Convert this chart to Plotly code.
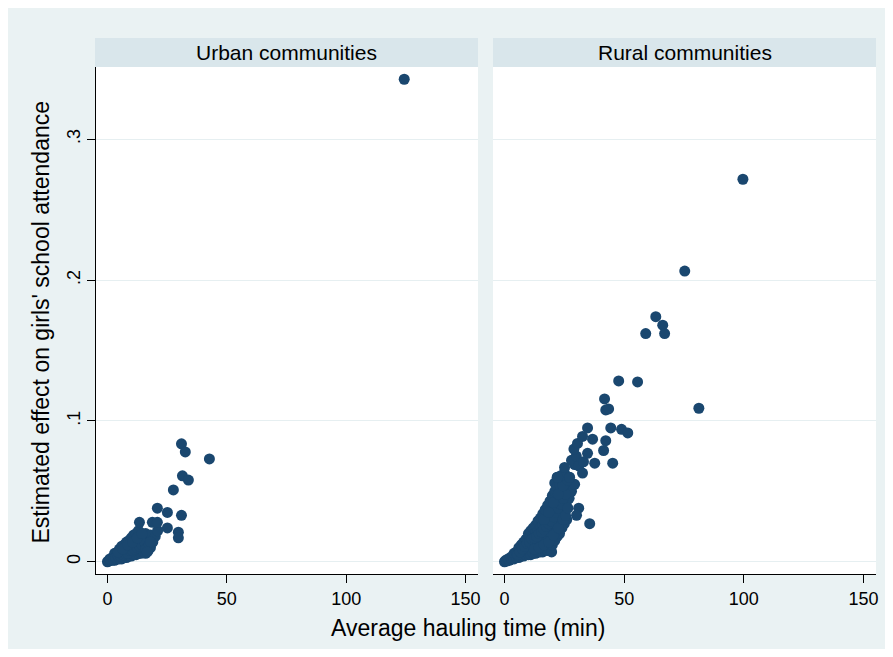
import plotly.graph_objects as go

# ---------------- data ----------------
panel_titles = ["Urban communities", "Rural communities"]
x_title = "Average hauling time (min)"
y_title = "Estimated effect on girls' school attendance"
x_tick_vals = [0, 50, 100, 150]
x_tick_text = ["0", "50", "100", "150"]
y_tick_vals = [0, 0.1, 0.2, 0.3]
y_tick_text = ["0", ".1", ".2", ".3"]

urban_x = [0, 0.5, 1, 1, 2, 2, 3, 3, 3, 4, 4, 5, 5, 5, 6, 6, 6, 7, 7, 7,
           8, 8, 8, 9, 9, 9, 10, 10, 10, 11, 11, 11, 12, 12, 12, 13, 13, 13,
           14, 14, 15, 15, 16, 16, 16, 17, 17, 18, 18, 19, 20, 21,
           1.5, 2.5, 3.5, 4.5, 5.5, 6.5, 7.5, 8.5, 9.5, 10.5, 11.5, 12.5, 13.5,
           14.5, 15.5, 4.5, 6.5, 8.5, 10.5, 12.5, 14.5, 16, 17.5, 18,
           16.7, 13.4, 18.8, 20.9, 20.9, 25.1, 25.1, 29.7, 29.7, 31.0, 27.6,
           31.4, 33.9, 31.0, 32.6, 42.7, 124.3]
urban_y = [0, 0.0005, 0.001, 0.002, 0.001, 0.003, 0.001, 0.004, 0.006, 0.002,
           0.005, 0.002, 0.005, 0.009, 0.002, 0.006, 0.011, 0.003, 0.007, 0.012,
           0.003, 0.008, 0.014, 0.004, 0.010, 0.015, 0.004, 0.011, 0.017, 0.005,
           0.013, 0.019, 0.005, 0.012, 0.020, 0.006, 0.015, 0.022, 0.006, 0.016,
           0.007, 0.018, 0.006, 0.012, 0.020, 0.008, 0.016, 0.010, 0.019, 0.014,
           0.018, 0.022,
           0.0015, 0.002, 0.003, 0.004, 0.004, 0.005, 0.006, 0.006, 0.008, 0.008,
           0.009, 0.010, 0.011, 0.012, 0.014, 0.007, 0.009, 0.012, 0.014, 0.017,
           0.020, 0.009, 0.012, 0.014,
           0.007, 0.028, 0.028, 0.028, 0.038, 0.035, 0.024, 0.021, 0.017, 0.033,
           0.051, 0.061, 0.058, 0.0837, 0.078, 0.073, 0.3426]

rural_x = [0, 0.5, 1, 1.5, 2, 2.5, 3, 3.5, 4, 4, 5, 5, 6, 6, 6, 7, 7, 7,
           8, 8, 8, 9, 9, 9, 10, 10, 10, 10, 11, 11, 11, 11, 12, 12, 12, 12,
           13, 13, 13, 13, 14, 14, 14, 14, 15, 15, 15, 15, 16, 16, 16, 16,
           17, 17, 17, 17, 18, 18, 18, 18, 19, 19, 19, 19, 19.7, 20, 20, 20, 20,
           21, 21, 21, 21, 21, 22, 22, 22, 22, 22, 23, 23, 23, 23, 24, 24, 24, 24,
           25, 25, 25, 25, 26, 26, 26, 27, 27, 28, 29.3, 29.3,
           5.5, 6.5, 7.5, 8.5, 9.5, 10.5, 11.5, 12.5, 13.5, 14.5, 15.5, 16.5,
           17.5, 18.5, 19.5, 20.5, 21.5, 22.5, 23.5, 24.5, 25.5, 12.5, 14.5,
           16.5, 18.5, 20.5, 22.5, 24.5, 16.5, 18.5, 20.5, 22.5, 24.5, 26.5,
           23.5, 25.5, 26.5,
           28, 30, 31, 33, 29, 22.2, 25.1, 27.2, 32.6, 30.5, 32.6, 34.7, 36.8,
           34.7, 37.7, 31.0, 30.1, 35.6, 41.4, 42.3, 45.2, 44.4, 48.9, 51.5,
           41.8, 42.3, 43.5, 47.7, 55.6, 59.0, 63.2, 66.1, 66.9, 75.3, 81.2, 99.6]
rural_y = [0, 0.001, 0.0005, 0.002, 0.001, 0.003, 0.002, 0.004, 0.002, 0.006,
           0.003, 0.007, 0.003, 0.006, 0.010, 0.004, 0.008, 0.012,
           0.004, 0.009, 0.014, 0.005, 0.010, 0.016, 0.005, 0.011, 0.016, 0.020,
           0.005, 0.012, 0.018, 0.022, 0.006, 0.013, 0.019, 0.024,
           0.006, 0.014, 0.021, 0.026, 0.007, 0.015, 0.022, 0.029,
           0.007, 0.016, 0.024, 0.031, 0.007, 0.017, 0.026, 0.034,
           0.008, 0.018, 0.028, 0.037, 0.008, 0.020, 0.030, 0.040,
           0.009, 0.021, 0.032, 0.043, 0.007, 0.012, 0.024, 0.035, 0.047,
           0.015, 0.027, 0.038, 0.050, 0.056, 0.018, 0.030, 0.041, 0.053, 0.060,
           0.020, 0.032, 0.044, 0.055, 0.024, 0.036, 0.048, 0.058,
           0.027, 0.040, 0.051, 0.063, 0.030, 0.043, 0.055, 0.045, 0.060, 0.050,
           0.055, 0.069,
           0.005, 0.007, 0.009, 0.011, 0.013, 0.014, 0.016, 0.017, 0.018, 0.020,
           0.021, 0.023, 0.025, 0.027, 0.029, 0.032, 0.035, 0.038, 0.041, 0.045,
           0.048, 0.009, 0.010, 0.012, 0.014, 0.019, 0.024, 0.030, 0.030, 0.035,
           0.042, 0.048, 0.054, 0.058, 0.061, 0.033, 0.038,
           0.072, 0.075, 0.068, 0.071, 0.080, 0.060, 0.067, 0.060, 0.063, 0.084,
           0.089, 0.095, 0.087, 0.077, 0.070, 0.038, 0.033, 0.027, 0.079, 0.086,
           0.070, 0.095, 0.094, 0.0915, 0.1156, 0.1078, 0.1085, 0.1284, 0.1277,
           0.162, 0.174, 0.168, 0.162, 0.2064, 0.109, 0.2716]

# ---------------- styling / layout ----------------
OFF = 8                      # page body margin of the browser
W, H = 893 - 2 * OFF, 657 - 2 * OFF
NAVY = "#1A476F"
BG = "#EAF2F3"
STRIP = "#D9E6EB"
GRID = "#E6EFF1"
FONT = "Liberation Sans, Arial, sans-serif"


def fx(p):
    return (p - OFF) / W


def fy(p):
    return (H - (p - OFF)) / H


fig = go.Figure()
fig.add_trace(go.Scatter(x=urban_x, y=urban_y, mode="markers",
                         marker=dict(color=NAVY, size=11, line=dict(width=0)),
                         xaxis="x", yaxis="y", hoverinfo="x+y"))
fig.add_trace(go.Scatter(x=rural_x, y=rural_y, mode="markers",
                         marker=dict(color=NAVY, size=11, line=dict(width=0)),
                         xaxis="x2", yaxis="y2", hoverinfo="x+y"))

ydom = [fy(574), fy(67)]
xr = [-4.8, 155.2]
yr = [-0.0087, 0.3513]

xaxis_common = dict(range=xr, tickvals=x_tick_vals, ticktext=x_tick_text,
                    showgrid=False, zeroline=False, showline=True,
                    linecolor="black", linewidth=1, ticks="outside",
                    ticklen=8, tickcolor="black", tickwidth=1,
                    tickfont=dict(size=18, color="black", family=FONT),
                    fixedrange=True)

fig.update_layout(
    width=W, height=H,
    margin=dict(l=0, r=0, t=0, b=0, autoexpand=False),
    paper_bgcolor=BG,
    plot_bgcolor="white",
    showlegend=False,
    font=dict(family=FONT, color="black"),
    xaxis=dict(domain=[fx(96), fx(478)], anchor="y", **xaxis_common),
    xaxis2=dict(domain=[fx(493), fx(876)], anchor="y2", **xaxis_common),
    yaxis=dict(domain=ydom, anchor="x", range=yr, tickvals=y_tick_vals,
               ticktext=y_tick_text, tickangle=-90, showgrid=True,
               gridcolor=GRID, gridwidth=1, zeroline=False, showline=True,
               linecolor="black", linewidth=1, ticks="outside", ticklen=8,
               tickcolor="black", tickwidth=1, ticklabelstandoff=0,
               tickfont=dict(size=18, color="black", family=FONT),
               fixedrange=True),
    yaxis2=dict(domain=ydom, anchor="x2", range=yr, tickvals=y_tick_vals,
                showticklabels=False, showgrid=True, gridcolor=GRID,
                gridwidth=1, zeroline=False, showline=False, ticks="",
                fixedrange=True),
)

shapes = [
    dict(type="rect", xref="paper", yref="paper", x0=fx(95), x1=fx(478),
         y0=fy(67), y1=fy(38), fillcolor=STRIP, line=dict(width=0), layer="below"),
    dict(type="rect", xref="paper", yref="paper", x0=fx(493), x1=fx(876),
         y0=fy(67), y1=fy(38), fillcolor=STRIP, line=dict(width=0), layer="below"),
]
fig.update_layout(shapes=shapes)

annotations = [
    dict(text=panel_titles[0], xref="paper", yref="paper", x=fx(286.5), y=fy(52.5),
         showarrow=False, xanchor="center", yanchor="middle",
         font=dict(size=21, color="black", family=FONT)),
    dict(text=panel_titles[1], xref="paper", yref="paper", x=fx(684.5), y=fy(52.5),
         showarrow=False, xanchor="center", yanchor="middle",
         font=dict(size=21, color="black", family=FONT)),
    dict(text=x_title, xref="paper", yref="paper", x=fx(468), y=fy(628),
         showarrow=False, xanchor="center", yanchor="middle",
         font=dict(size=23, color="black", family=FONT)),
    dict(text=y_title, xref="paper", yref="paper", x=fx(40), y=fy(322.5),
         showarrow=False, xanchor="center", yanchor="middle", textangle=-90,
         font=dict(size=23, color="black", family=FONT)),
]
fig.update_layout(annotations=annotations)

fig.write_html("out.html")
